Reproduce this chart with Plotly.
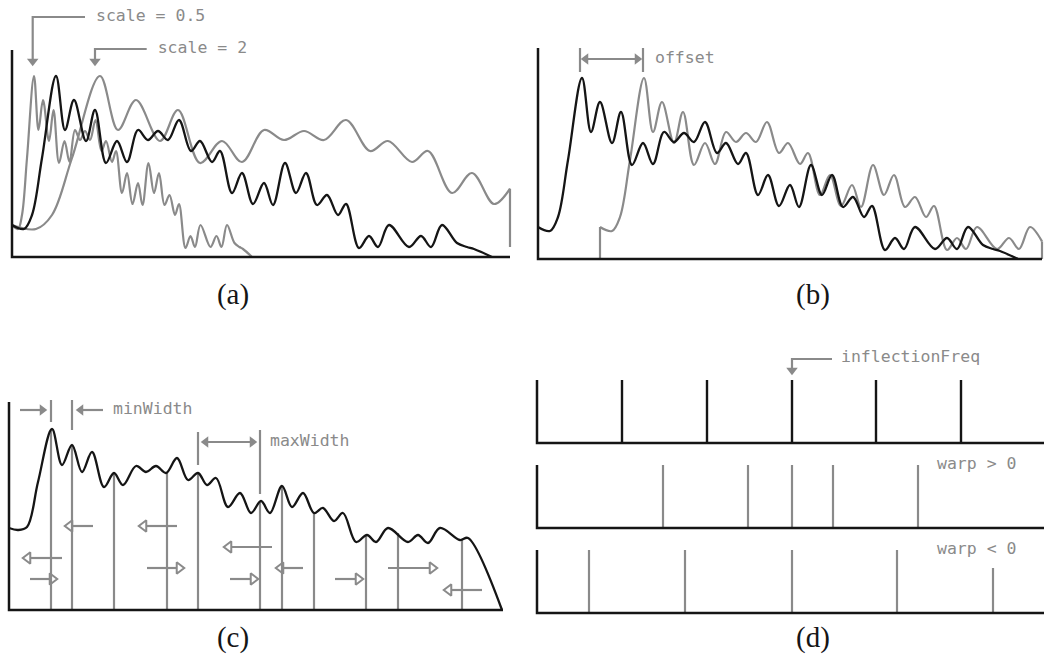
import math
import numpy as np
import plotly.graph_objects as go

W, H = 1044, 666
GRAY = "#8a8a8a"
BLACK = "#151515"
MONO = "DejaVu Sans Mono"
SERIF = "Liberation Serif"

# ---------------- data ----------------
# base spectrum (panels a & b): frequency bin -> magnitude
BASE_X = [0, 12, 20, 30, 44, 53, 62, 74, 83, 94, 105, 115, 126, 136, 146, 156, 167, 179, 188, 200,
          208, 220, 230, 241, 252, 261, 273, 284, 294, 305, 315, 326, 334, 347, 357, 366, 377, 397,
          409, 419, 430, 445, 455, 462, 480]
BASE_Y = [32, 28, 42, 99, 181, 127, 157, 116, 147, 94, 116, 95, 127, 117, 126, 117, 137, 106, 116, 95,
          106, 64, 84, 53, 74, 52, 94, 64, 84, 52, 62, 42, 53, 9, 21, 10, 32, 10,
          21, 10, 32, 14, 10, 8, 0]
SCALES = [0.5, 2.0]
SCALE_LABELS = ["scale = 0.5", "scale = 2"]
SCALE2_DROP_TO = 10
OFFSET_BINS = 62
OFFSET_DROP_TO = 0

# panel (c) spectrum and bands
C_X = [0, 9, 18, 29, 43, 53, 63, 73, 83, 95, 105, 114, 127, 137, 147, 157, 168, 179, 189, 198,
       207, 219, 231, 242, 252, 261, 273, 283, 294, 305, 314, 325, 334, 347, 358, 367, 379, 399,
       409, 419, 431, 451, 459, 493]
C_Y = [82, 80, 83, 128, 181, 145, 165, 138, 158, 123, 137, 125, 144, 138, 144, 137, 152, 130, 137, 125,
       132, 103, 117, 97, 109, 97, 124, 103, 117, 97, 102, 89, 97, 68, 75, 68, 82, 68,
       75, 67, 82, 70, 72, 0]
C_BAND_X = [42, 63, 105, 158, 189, 251, 273, 305, 357, 389, 453]
C_BAND_TOP = [181, 165, 137, 137, 137, 109, 124, 97, 75, 77, 70]
# band movement arrows: (start, tip, height)
C_MOVE_START = [53, 21, 84, 168, 138, 263, 221, 294, 326, 379, 473]
C_MOVE_TIP = [13, 49, 55, 129, 176, 214, 250, 266, 355, 429, 434]
C_MOVE_H = [52, 31, 84, 84, 42, 63, 31, 42, 31, 42, 20]
MIN_WIDTH_EDGES = [42, 63]
MAX_WIDTH_EDGES = [189, 251]

# panel (d): band centre frequencies
D_REF = [0, 85, 170, 255, 339, 424]
D_WARP_POS = [126, 211, 255, 296, 381]
D_WARP_NEG = [52, 148, 255, 360, 456]
D_WARP_NEG_H = [63, 63, 63, 63, 45]
D_H = 63
INFLECTION = 255

CAPTIONS = ["(a)", "(b)", "(c)", "(d)"]

# ---------------- layout helpers ----------------
fig = go.Figure()
# panel regions in pixels (x0, x1, y0, y1) and axis origin (ox, oy)
PANELS = {
    "a": ((0, 522, 0, 300), (12, 257)),
    "b": ((522, 1044, 0, 300), (538, 259)),
    "c": ((0, 522, 300, 666), (9, 610)),
    "d1": ((522, 1044, 330, 450), (537, 443)),
    "d2": ((522, 1044, 450, 535), (537, 528)),
    "d3": ((522, 1044, 535, 666), (537, 613)),
}
AX = {}
for i, (k, ((x0, x1, y0, y1), (ox, oy))) in enumerate(PANELS.items()):
    n = "" if i == 0 else str(i + 1)
    AX[k] = ("x" + n, "y" + n)
    common = dict(visible=False, showgrid=False, zeroline=False, fixedrange=True)
    fig.layout["xaxis" + n] = dict(domain=[x0 / W, x1 / W], range=[x0 - ox, x1 - ox], anchor="y" + n, **common)
    fig.layout["yaxis" + n] = dict(domain=[1 - y1 / H, 1 - y0 / H], range=[oy - y1, oy - y0], anchor="x" + n, **common)


def line(p, xs, ys, color=GRAY, width=2.2, shape="linear"):
    fig.add_trace(go.Scatter(x=xs, y=ys, mode="lines", xaxis=AX[p][0], yaxis=AX[p][1],
                             line=dict(color=color, width=width, shape=shape),
                             hoverinfo="skip", showlegend=False))


def head(p, x, y, d, filled=True, size=10):
    """arrow head with its tip at (x, y); returns the shaft end."""
    r = size / 2
    rt = r * 2 / math.sqrt(3)
    dx, dy = {"right": (1, 0), "left": (-1, 0), "up": (0, 1), "down": (0, -1)}[d]
    cx, cy = x - dx * rt, y - dy * rt
    fig.add_trace(go.Scatter(x=[cx], y=[cy], mode="markers", xaxis=AX[p][0], yaxis=AX[p][1],
                             marker=dict(symbol="triangle-" + d + ("" if filled else "-open"), size=size,
                                         color=GRAY, line=dict(color=GRAY, width=2 if not filled else 0)),
                             cliponaxis=False, hoverinfo="skip", showlegend=False))
    back = rt if filled else rt + r / 2
    return x - dx * back, y - dy * back


def text(p, x, y, s, size=16.5, color=GRAY, family=MONO, pos="middle right"):
    fig.add_trace(go.Scatter(x=[x], y=[y], mode="text", text=[s], textposition=pos,
                             xaxis=AX[p][0], yaxis=AX[p][1], cliponaxis=False,
                             textfont=dict(family=family, size=size, color=color),
                             hoverinfo="skip", showlegend=False))


def frame(p, top, right):
    line(p, [0, 0, right], [top, 0, 0], color=BLACK, width=2.5)


bx = np.array(BASE_X, float)
by = np.array(BASE_Y, float)

# ---------------- panel (a) ----------------
A_RIGHT, A_TOP = 498, 207
# scale = 0.5
line("a", list(bx * SCALES[0]), BASE_Y, GRAY, 2.2, "spline")
# scale = 2 (clipped at the right edge)
sx = bx * SCALES[1]
keep = sx < A_RIGHT
yend = float(np.interp(A_RIGHT / SCALES[1], bx, by))
line("a", list(sx[keep]) + [A_RIGHT], list(by[keep]) + [yend], GRAY, 2.2, "spline")
line("a", [A_RIGHT, A_RIGHT], [yend, SCALE2_DROP_TO], GRAY, 2.2)
line("a", BASE_X, BASE_Y, BLACK, 2.3, "spline")
frame("a", A_TOP, A_RIGHT)
# callouts
for (cx, sx0, hy, lab) in [(20.7, 73, 240, SCALE_LABELS[0]), (83, 134.7, 208, SCALE_LABELS[1])]:
    ex, ey = head("a", cx, 190, "down")
    line("a", [sx0, cx, cx], [hy, hy, ey])
    text("a", sx0 + 11, hy, lab)
text("a", 221, -40, CAPTIONS[0], size=29, color=BLACK, family=SERIF, pos="middle center")

# ---------------- panel (b) ----------------
B_RIGHT, B_TOP = 504, 211
ox_ = bx + OFFSET_BINS
keep = ox_ < B_RIGHT
yend = float(np.interp(B_RIGHT - OFFSET_BINS, bx, by))
line("b", [ox_[0], ox_[0]], [0, by[0]], GRAY, 2.2)
line("b", list(ox_[keep]) + [B_RIGHT], list(by[keep]) + [yend], GRAY, 2.2, "spline")
line("b", [B_RIGHT, B_RIGHT], [yend, OFFSET_DROP_TO], GRAY, 2.2)
line("b", BASE_X, BASE_Y, BLACK, 2.3, "spline")
frame("b", B_TOP, B_RIGHT)
p0, p1 = 42, 42 + 63
line("b", [p0, p0, None, p1, p1], [187, 211, None, 187, 211])
e1 = head("b", p0, 200, "left")
e2 = head("b", p1, 200, "right")
line("b", [e1[0], e2[0]], [200, 200])
text("b", p1 + 12, 200, "offset")
text("b", 275, -38, CAPTIONS[1], size=29, color=BLACK, family=SERIF, pos="middle center")

# ---------------- panel (c) ----------------
C_RIGHT, C_TOP = 494, 208
bxs, bys = [], []
for xv, tv in zip(C_BAND_X, C_BAND_TOP):
    bxs += [xv, xv, None]
    bys += [0, tv, None]
line("c", bxs, bys)
# width markers
line("c", [MIN_WIDTH_EDGES[0], MIN_WIDTH_EDGES[0], None, MIN_WIDTH_EDGES[1], MIN_WIDTH_EDGES[1],
           None, MAX_WIDTH_EDGES[0], MAX_WIDTH_EDGES[0], None, MAX_WIDTH_EDGES[1], MAX_WIDTH_EDGES[1]],
     [188, 210, None, 180, 210, None, 145, 178, None, 116, 180])
line("c", C_X, C_Y, BLACK, 2.3, "spline")
frame("c", C_TOP, C_RIGHT)
# minWidth
e = head("c", MIN_WIDTH_EDGES[0] - 3, 200, "right")
line("c", [11, e[0]], [200, 200])
e = head("c", MIN_WIDTH_EDGES[1] + 3, 200, "left")
line("c", [94, e[0]], [200, 200])
text("c", 104, 200, "minWidth")
# maxWidth
e1 = head("c", MAX_WIDTH_EDGES[0] + 2, 168, "left")
e2 = head("c", MAX_WIDTH_EDGES[1] - 2, 168, "right")
line("c", [e1[0], e2[0]], [168, 168])
text("c", 261, 168, "maxWidth")
# band movement arrows
for s0, t0, hh in zip(C_MOVE_START, C_MOVE_TIP, C_MOVE_H):
    d = "right" if t0 > s0 else "left"
    e = head("c", t0, hh, d, filled=False, size=10)
    line("c", [s0, e[0]], [hh, hh])
text("c", 224, -30, CAPTIONS[2], size=29, color=BLACK, family=SERIF, pos="middle center")

# ---------------- panel (d) ----------------
D_RIGHT = 507
for p, ticks, hs, col in [("d1", D_REF[1:], [D_H] * 5, BLACK),
                          ("d2", D_WARP_POS, [D_H] * 5, GRAY),
                          ("d3", D_WARP_NEG, D_WARP_NEG_H, GRAY)]:
    xs, ys = [], []
    for xv, hv in zip(ticks, hs):
        xs += [xv, xv, None]
        ys += [0, hv, None]
    line(p, xs, ys, col, 2.4 if col == BLACK else 2.2)
    frame(p, D_H, D_RIGHT)
e = head("d1", INFLECTION, 67, "down")
line("d1", [295, INFLECTION, INFLECTION], [84, 84, e[1]])
text("d1", 304, 85, "inflectionFreq")
text("d2", 400, D_H, "warp > 0")
text("d3", 400, D_H, "warp < 0")
text("d3", 276, -27, CAPTIONS[3], size=29, color=BLACK, family=SERIF, pos="middle center")

fig.update_layout(width=W, height=H, margin=dict(l=0, r=0, t=0, b=0),
                  paper_bgcolor="white", plot_bgcolor="white", showlegend=False)
fig.write_html("out.html", config={"displayModeBar": False},
               post_script="document.body.style.margin='0';document.body.style.overflow='hidden';")
